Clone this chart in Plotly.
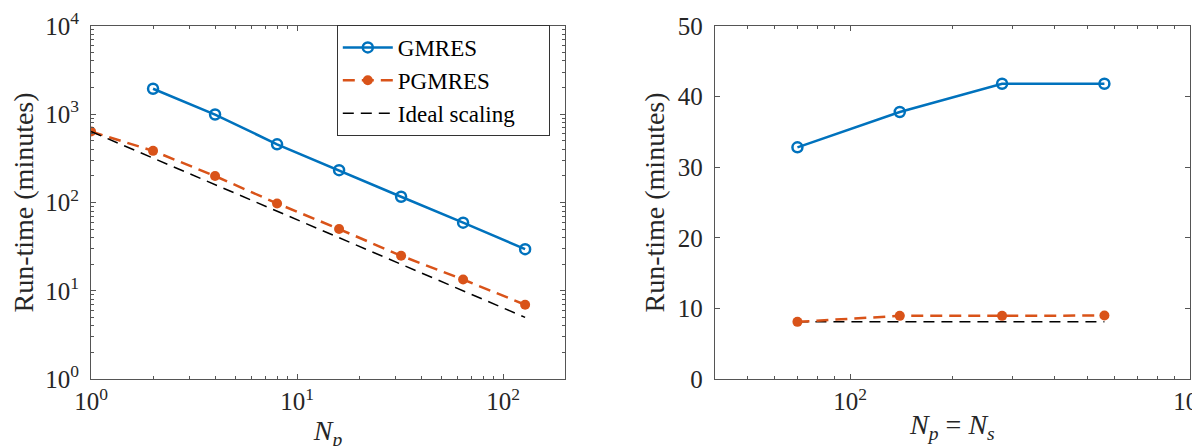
import plotly.graph_objs as go
from plotly.subplots import make_subplots

# left panel: strong scaling
np_strong = [1, 2, 4, 8, 16, 32, 64, 128]
gmres_strong_x = [2, 4, 8, 16, 32, 64, 128]
gmres_strong = [1940, 990, 455, 232, 116, 59, 29.6]
pgmres_strong = [635, 384, 199, 97.5, 50, 24.9, 13.4, 6.95]
ideal_strong_x = [1, 128]
ideal_strong = [635, 5.0]

# right panel: weak scaling
np_weak = [70, 140, 280, 560]
gmres_weak = [32.8, 37.8, 41.8, 41.8]
pgmres_weak = [8.1, 8.95, 8.95, 9.0]
ideal_weak_x = [70, 560]
ideal_weak = [8.1, 8.1]

left_xticks = [1, 10, 100]
left_xtext = ['10<sup>0</sup>', '10<sup>1</sup>', '10<sup>2</sup>']
left_yticks = [1, 10, 100, 1000, 10000]
left_ytext = ['10<sup>0</sup>', '10<sup>1</sup>', '10<sup>2</sup>', '10<sup>3</sup>', '10<sup>4</sup>']
right_xticks = [100, 1000]
right_xtext = ['10<sup>2</sup>', '10<sup>3</sup>']
right_yticks = [0, 10, 20, 30, 40, 50]

minor_x_left = [2, 3, 4, 5, 6, 7, 8, 9, 20, 30, 40, 50, 60, 70, 80, 90, 200]
minor_y_left = [m * d for d in [1, 10, 100, 1000] for m in range(2, 10)]
minor_x_right = [40, 50, 60, 70, 80, 90, 200, 300, 400, 500, 600, 700, 800, 900]

blue = '#0072BD'
orange = '#D95319'
serif = 'Liberation Serif'
axcol = '#555555'
txtcol = '#262626'
pad = '\u00a0' * 5

fig = make_subplots(rows=1, cols=2)

fig.add_trace(go.Scatter(x=gmres_strong_x, y=gmres_strong, name='GMRES' + pad, legendgroup='a',
                         mode='lines+markers',
                         line=dict(color=blue, width=2.5),
                         marker=dict(symbol='circle-open', size=10, color=blue, line=dict(width=2.5))),
              row=1, col=1)
fig.add_trace(go.Scatter(x=np_strong, y=pgmres_strong, name='PGMRES' + pad, legendgroup='b',
                         mode='lines+markers',
                         line=dict(color=orange, width=2.5, dash='12px,7px'),
                         marker=dict(symbol='circle', size=10, color=orange)),
              row=1, col=1)
fig.add_trace(go.Scatter(x=ideal_strong_x, y=ideal_strong, name='Ideal scaling' + pad, legendgroup='c',
                         mode='lines',
                         line=dict(color='black', width=1.5, dash='11px,7px')),
              row=1, col=1)

fig.add_trace(go.Scatter(x=np_weak, y=gmres_weak, showlegend=False, mode='lines+markers',
                         line=dict(color=blue, width=2.5),
                         marker=dict(symbol='circle-open', size=10, color=blue, line=dict(width=2.5))),
              row=1, col=2)
fig.add_trace(go.Scatter(x=ideal_weak_x, y=ideal_weak, showlegend=False, mode='lines',
                         line=dict(color='black', width=1.5, dash='11px,7px')),
              row=1, col=2)
fig.add_trace(go.Scatter(x=np_weak, y=pgmres_weak, showlegend=False, mode='lines+markers',
                         line=dict(color=orange, width=2.5, dash='12px,7px'),
                         marker=dict(symbol='circle', size=10, color=orange)),
              row=1, col=2)

common = dict(showline=True, linecolor=axcol, linewidth=1, mirror='allticks', ticks='inside',
              ticklen=5, tickcolor=axcol, showgrid=False, zeroline=False, automargin=False,
              tickfont=dict(family=serif, size=25, color=txtcol),
              title_font=dict(family=serif, size=28, color=txtcol))

fig.update_xaxes(common, type='log', range=[0, 2.301], tickvals=left_xticks, ticktext=left_xtext,
                 minor=dict(tickvals=minor_x_left, ticks='inside', ticklen=3, tickcolor=axcol),
                 title_text='<i>N</i><sub><i>p</i></sub>', title_standoff=0, ticklabelstandoff=0,
                 domain=[0.0692, 0.4642], row=1, col=1)
fig.update_yaxes(common, type='log', range=[0, 4], tickvals=left_yticks, ticktext=left_ytext,
                 minor=dict(tickvals=minor_y_left, ticks='inside', ticklen=3, tickcolor=axcol),
                 title_text='Run-time (minutes)', title_standoff=10, ticklabelstandoff=6,
                 domain=[0.168, 0.960], row=1, col=1)
fig.update_xaxes(common, type='log', range=[1.602, 3], tickvals=right_xticks, ticktext=right_xtext,
                 minor=dict(tickvals=minor_x_right, ticks='inside', ticklen=3, tickcolor=axcol),
                 title_text='<i>N</i><sub><i>p</i></sub> = <i>N</i><sub><i>s</i></sub>',
                 title_standoff=0, ticklabelstandoff=0,
                 domain=[0.589, 0.985], row=1, col=2)
fig.update_yaxes(common, range=[0, 50], tickvals=right_yticks,
                 title_text='Run-time (minutes)', title_standoff=4, ticklabelstandoff=6,
                 domain=[0.168, 0.960], row=1, col=2)

fig.update_layout(width=1200, height=446, plot_bgcolor='white', paper_bgcolor='white',
                  margin=dict(l=0, r=0, t=0, b=0),
                  legend=dict(x=0.274, y=0.962, xanchor='left', yanchor='top',
                              bgcolor='white', bordercolor='#333333', borderwidth=1,
                              font=dict(family=serif, size=23, color='black'),
                              itemwidth=50, tracegroupgap=0))

fig.write_html("out.html")
